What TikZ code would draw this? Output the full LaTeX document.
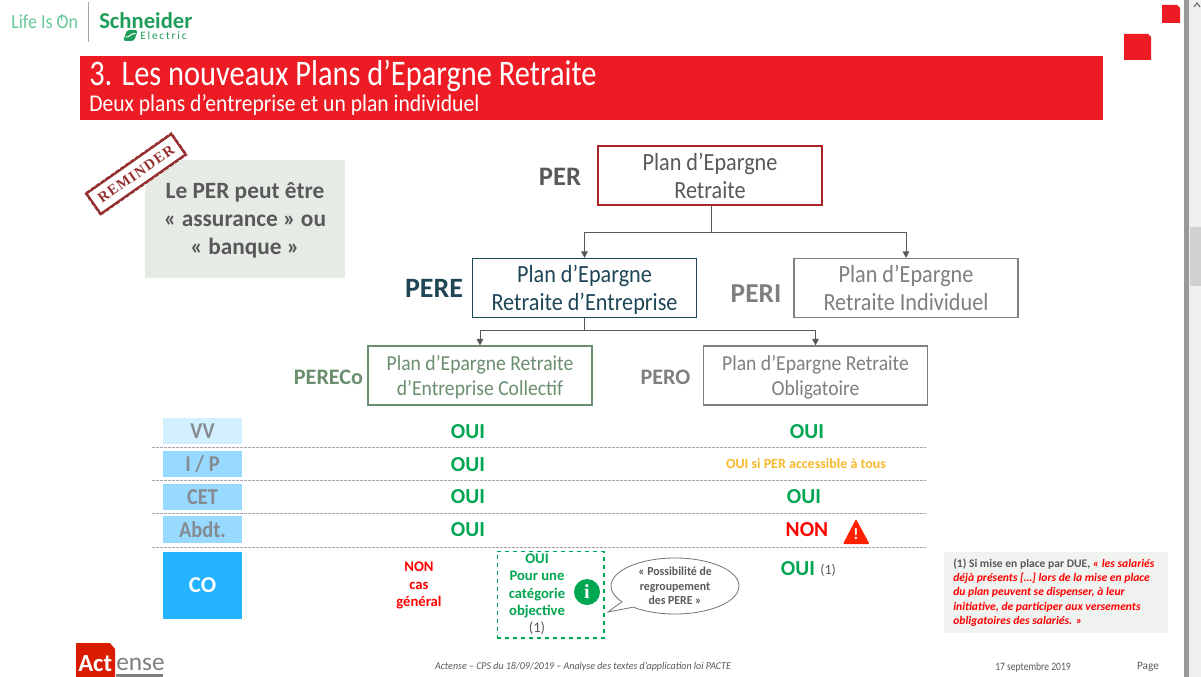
\documentclass[tikz,border=0pt]{standalone}
\usepackage{fontspec}
\setmainfont{Carlito}
\newfontfamily\stampfont[LetterSpace=8]{Liberation Serif}
\newfontfamily\elecfont[LetterSpace=16]{Carlito}
\newfontfamily\narA[FakeStretch=0.90]{Carlito}
\newfontfamily\narB[FakeStretch=0.92]{Carlito}
\newfontfamily\narC[FakeStretch=0.845]{Carlito}
\newfontfamily\narD[FakeStretch=0.96]{Carlito}
\usetikzlibrary{arrows.meta,shapes.callouts,shapes.geometric}
\newcommand\fsz[2]{\fontsize{#1}{#2}\selectfont}
\definecolor{sered}{HTML}{ED1C24}
\definecolor{segreen}{HTML}{00A651}
\definecolor{logogreen}{HTML}{1E9E5A}
\definecolor{sedark}{HTML}{595959}
\definecolor{segray}{HTML}{7F7F7F}
\definecolor{rowlab}{HTML}{858B90}
\definecolor{pegreen}{HTML}{6B8E6F}
\definecolor{petrol}{HTML}{1F4657}
\definecolor{stampred}{HTML}{94302F}
\definecolor{rowA}{HTML}{D2F0FF}
\definecolor{rowB}{HTML}{97D9FF}
\definecolor{rowC}{HTML}{24B4FF}
\definecolor{amber}{HTML}{F9B92D}
\definecolor{remfill}{HTML}{E6EBE6}
\definecolor{notefill}{HTML}{F1F3F1}
\tikzset{
  x=0.75pt,y=-0.75pt,
  planbox/.style={draw,line width=1.1pt,fill=white,minimum width=168pt,minimum height=44pt,inner sep=0pt,align=center},
  bigbox/.style={planbox,text depth=0pt,font=\narA\fsz{18.5}{21}},
  smallbox/.style={planbox,text depth=-1pt,font=\narB\fsz{16}{19},text=segray},
  tag/.style={font=\bfseries\fsz{20.5}{22},inner sep=0pt},
  smalltag/.style={font=\bfseries\fsz{16.6}{19},inner sep=0pt},
  rowhead/.style={minimum width=59pt,inner sep=0pt,font=\narA\bfseries\fsz{17}{20},text=rowlab},
  rowline/.style={draw=black!35,line width=0.7pt,dash pattern=on 2.2pt off 0.8pt},
  ans/.style={font=\bfseries\fsz{16}{19},text=segreen,inner sep=0pt},
  conn/.style={draw=sedark,line width=0.75pt,-{Triangle[length=5pt,width=5pt]}},
  connplain/.style={draw=sedark,line width=0.75pt},
  foot/.style={text=sedark,inner sep=0pt},
}
\begin{document}
\begin{tikzpicture}
\clip (0,0) rectangle (1201,677);
\useasboundingbox (0,0) rectangle (1201,677);
\fill[white] (0,0) rectangle (1201,677);
% scroll bar
\fill[black!6] (1189,0) rectangle (1201,677);
\fill[black!40] (1184,0) rectangle (1189,677);
\fill[black!18] (1190,227) rectangle (1201,286);
\draw[black!60,line width=0.8pt] (1194,7) -- (1197,3) -- (1200,7);
% logo
\node[inner sep=0pt,anchor=west,text=segreen!60,font=\narA\fsz{15}{16}] (lifeison) at (11,22) {Life Is On};
\draw[white,line width=1.4pt] (61.5,15) -- (61.5,19);
\draw[segreen!60,line width=0.6pt] (61.5,14) -- (61.5,21);
\draw[black!35,line width=0.5pt] (88,2) -- (88,42);
\node[inner sep=0pt,anchor=west,text=logogreen,font=\bfseries\fsz{17}{20}] (schneider) at (99,21) {Schneider};
\node[inner sep=0pt,anchor=west,text=logogreen,font=\elecfont\fsz{8.5}{10}] (electric) at (140,36) {Electric};
\fill[logogreen,rounded corners=2pt] (123,41) -- (127,30) -- (138,30) -- (134,41) -- cycle;
\draw[white,line width=0.8pt] (125.5,37) .. controls (130,38) and (130,33) .. (135.5,33.5);
% red shapes
\fill[sered] (1124,34) -- (1148,34) -- (1151,37) -- (1151,60) -- (1124,60) -- cycle;
\fill[sered] (1162,5) -- (1177,5) -- (1180,8) -- (1180,23) -- (1162,23) -- cycle;
\fill[sered] (80,56) rectangle (1103,120);
\node[inner sep=0pt,anchor=west,text=white,font=\narC\fsz{27}{30}] (title) at (89,76) {3. Les nouveaux Plans d’Epargne Retraite};
\node[inner sep=0pt,anchor=west,text=white,font=\narA\fsz{18}{20}] (subtitle) at (89,105) {Deux plans d’entreprise et un plan individuel};
% reminder
\node[fill=remfill,minimum width=150pt,minimum height=88.5pt,inner sep=0pt,align=center,text depth=0pt,text=sedark,font=\bfseries\fsz{17.5}{21}] (reminderbox) at (245,219) {Le PER peut être\\« assurance » ou\\« banque »};
\node[draw=stampred,line width=2pt,rotate=35,minimum width=78pt,minimum height=19pt,inner sep=0pt,text=stampred,font=\stampfont\bfseries\fsz{11}{12},fill=white] (stamp) at (136,174) {REMINDER};
\draw[white,line width=0.6pt,dash pattern=on 1pt off 3.5pt] (stamp.north west) -- (stamp.north east) -- (stamp.south east) -- (stamp.south west) -- cycle;
% plan boxes
\node[bigbox,draw=red!60!black!85,text=sedark] (per) at (710,175.5) {Plan d’Epargne\\Retraite};
\node[bigbox,draw=petrol,text=petrol] (pere) at (584.5,288) {Plan d’Epargne\\Retraite d’Entreprise};
\node[bigbox,draw=segray,text=segray] (peri) at (906,288) {Plan d’Epargne\\Retraite Individuel};
\node[smallbox,draw=pegreen,text=pegreen] (pereco) at (480,375.5) {Plan d’Epargne Retraite\\d’Entreprise Collectif};
\node[smallbox,draw=segray] (pero) at (815.5,375.5) {Plan d’Epargne Retraite\\Obligatoire};
\node[tag,text=sedark,font=\bfseries\fsz{20}{22}] (perlab) at (560,177) {PER};
\node[tag,text=petrol,font=\bfseries\fsz{21}{22}] (perelab) at (434,288) {PERE};
\node[tag,text=segray] (perilab) at (756,294) {PERI};
\node[smalltag,text=pegreen] (perecolab) at (328.5,377) {PERECo};
\node[smalltag,text=segray] (perolab) at (665.5,377) {PERO};
% connectors
\coordinate (bus1) at (711,232);
\coordinate (bus2) at (584.5,330);
\draw[connplain] (per.south -| bus1) -- (bus1);
\draw[conn] (bus1) -| (pere.north);
\draw[conn] (bus1) -| (peri.north);
\draw[connplain] (pere.south) -- (bus2);
\draw[conn] (bus2) -| (pereco.north);
\draw[conn] (bus2) -| (pero.north);
% rows
\node[rowhead,fill=rowA,minimum height=19.5pt] (vv) at (202.5,431) {VV};
\node[rowhead,fill=rowB,minimum height=19.5pt] (ip) at (202.5,464) {I / P};
\node[rowhead,fill=rowB,minimum height=19.5pt] (cet) at (202.5,497) {CET};
\node[rowhead,fill=rowB,minimum height=20pt] (abdt) at (202.5,529.5) {Abdt.};
\node[rowhead,fill=rowC,minimum height=50pt,text=white,font=\bfseries\fsz{17}{20}] (co) at (202.5,585.5) {CO};
\foreach \yy/\nm in {447/a,480/b,513/c,547/d}{
  \coordinate (ll\nm) at (152,\yy);
  \coordinate (lr\nm) at (926,\yy);
  \draw[rowline] (ll\nm) -- (lr\nm);
}
\node[ans] (o1) at (468,431.5) {OUI};
\node[ans] (o2) at (468,464.5) {OUI};
\node[ans] (o3) at (468,497) {OUI};
\node[ans] (o4) at (468,529.5) {OUI};
\node[ans] (r1) at (807,431.5) {OUI};
\node[ans,text=amber,font=\bfseries\fsz{10.5}{12}] (r2) at (806,464) {OUI si PER accessible à tous};
\node[ans] (r3) at (804,497) {OUI};
\node[ans,text=red] (r4) at (807,529.5) {NON};
\fill[red!75!orange,rounded corners=0.8pt] (843,544) -- (856,519) -- (869.5,544) -- cycle;
\node[inner sep=0pt,text=white,font=\bfseries\fsz{12}{14}] (warn) at (856,534) {!};
\node[ans] (r5) at (798,568.5) {OUI};
\node[inner sep=0pt,anchor=west,text=sedark,font=\fsz{10.5}{12}] (r5n) at (820,570) {(1)};
\node[inner sep=0pt,text=red,align=center,font=\bfseries\fsz{11}{13}] (nongen) at (419,585.5) {NON\\cas\\général};
% dashed box
\node[draw=segreen,line width=1pt,dashed,minimum width=80pt,minimum height=65pt,inner sep=0pt] (catbox) at (550.5,594.5) {};
\node[inner sep=0pt,text=segreen,align=center,font=\bfseries\fsz{11}{13}] (cattext) at (537,594.5) {OUI\\Pour une\\catégorie\\objective\\\textcolor{sedark}{\mdseries (1)}};
\node[circle,fill=segreen,minimum size=19.5pt,inner sep=0pt,text=white,font=\stampfont\bfseries\fsz{15}{16}] (info) at (587,592) {i};
\node[ellipse callout,draw=black!55,line width=0.6pt,fill=white,minimum width=96pt,minimum height=42pt,inner sep=0pt,callout absolute pointer={(608,612)},align=center,text=sedark,font=\narD\bfseries\fsz{9.2}{11}] (bubble) at (675,586) {« Possibilité de\\regroupement\\des PERE »};
% note
\node[fill=notefill,minimum width=168pt,minimum height=61pt,inner sep=0pt] (notebox) at (1056,592.5) {};
\node[inner sep=0pt,anchor=west,align=left,text=sedark,font=\bfseries\fsz{8.7}{10.7}] (note) at (953,592.5) {(1) Si mise en place par DUE, \textcolor{red}{\itshape « les salariés}\\\textcolor{red}{\itshape déjà présents […] lors de la mise en place}\\\textcolor{red}{\itshape du plan peuvent se dispenser, à leur}\\\textcolor{red}{\itshape initiative, de participer aux versements}\\\textcolor{red}{\itshape obligatoires des salariés. »}};
% footer
\fill[red!75!orange!85!black] (76,643) -- (110,643) -- (115,649) -- (115,677) -- (76,677) -- cycle;
\node[inner sep=0pt,anchor=west,text=white,font=\bfseries\fsz{18.5}{22}] (act) at (78,664) {Act};
\node[inner sep=0pt,anchor=west,text=segray,font=\fsz{19}{22}] (ense) at (116,664) {ense};
\fill[segray] (116,674) rectangle (163,677);
\node[foot,font=\narD\itshape\fsz{7.8}{9}] (footc) at (583,667) {Actense – CPS du 18/09/2019 – Analyse des textes d’application loi PACTE};
\node[foot,font=\narC\fsz{8.5}{10}] (date) at (1033,667) {17 septembre 2019};
\node[foot,font=\fsz{8.5}{10}] (page) at (1148,667) {Page};
\end{tikzpicture}
\end{document}
